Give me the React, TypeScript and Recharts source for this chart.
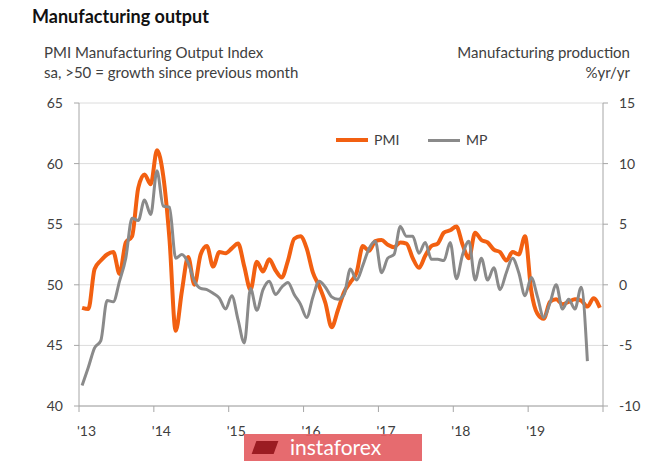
import React from 'react';
import { LineChart, Line, XAxis, YAxis, CartesianGrid } from 'recharts';

const yearLabels = ["'13", "'14", "'15", "'16", "'17", "'18", "'19"];
const yearTicks = [0, 12, 24, 36, 48, 60, 72, 84];
const leftTicks = [40, 45, 50, 55, 60, 65];
const rightTicks = [-10, -5, 0, 5, 10, 15];

// PMI Manufacturing Output Index, monthly Jan 2013 - Dec 2019
const pmi = [
  48.1, 48.0, 51.3, 52.0, 52.5, 52.7, 50.9, 53.5, 54.0, 58.0, 59.1, 58.3,
  61.1, 59.0, 53.8, 46.2, 49.5, 52.3, 50.0, 52.5, 53.2, 51.5, 52.7, 52.6,
  53.0, 53.4, 51.5, 49.6, 51.9, 51.1, 52.1, 51.2, 50.6, 52.0, 53.8, 54.0,
  53.0, 51.0, 49.9, 48.5, 46.5, 47.9, 49.4, 50.2, 51.0, 53.2, 52.8, 53.6,
  53.7, 53.3, 53.1, 53.5, 53.4, 52.2, 51.4, 52.4, 53.2, 53.4, 54.3, 54.5,
  54.8, 53.3, 52.2, 54.3, 53.7, 53.5, 52.9, 52.7, 52.0, 52.7, 52.5, 54.0,
  49.5, 47.6, 47.2, 48.6, 48.8, 48.4, 48.6, 48.8, 48.7, 48.2, 48.9, 48.1,
];

// Manufacturing production %yr/yr, monthly Jan 2013 - Oct 2019
const mp = [
  -8.3, -6.8, -5.2, -4.6, -1.3, -1.4, 0.3, 2.2, 5.5, 5.3, 7.0, 5.8,
  9.4, 6.5, 6.4, 2.2, 2.5, 1.8, 0.3, -0.3, -0.4, -0.7, -1.1, -2.0,
  -0.9, -2.9, -4.8, -0.3, -2.1, -0.4, 0.3, -0.8, -0.2, 0.2, -0.8, -1.6,
  -2.7, -1.0, 0.3, -0.2, -1.0, -1.2, -0.8, 1.3, 0.4, 1.6, 3.0, 3.6,
  1.0, 2.2, 2.5, 4.8, 4.0, 4.0, 2.6, 3.5, 2.1, 2.1, 2.0, 3.5,
  0.5, 2.5, 3.6, 0.4, 2.2, 0.4, 1.4, -0.4, 1.0, 2.2, 1.0, -0.9,
  0.6, -1.0, -2.7, -1.5, 0.0, -2.0, -1.2, -2.0, -0.2, -6.3,
];

const data = pmi.map((v, i) => ({
  x: i + 0.5,
  pmi: v,
  mp: i < mp.length ? mp[i] : null,
}));

const FONT = 'Lato, "Open Sans", sans-serif';
const TEXT = '#404040';
const AXIS = '#a6a6a6';
const ORANGE = '#F26011';
const GRAY = '#8a8a8a';

const XTick = (props: any) => {
  const { x, y, payload } = props;
  const idx = Math.round(payload.value / 12);
  if (idx >= yearLabels.length) return <g />;
  return (
    <text x={x - 2} y={y} dy="0.71em" textAnchor="start" fill={TEXT} fontSize={14} fontFamily={FONT}>
      {yearLabels[idx]}
    </text>
  );
};

export default function App() {
  return (
    <div style={{ position: 'absolute', left: 0, top: 0, width: 665, height: 461, background: '#fff', fontFamily: FONT, overflow: 'hidden' }}>
      <div style={{ position: 'absolute', left: 32, top: 5, fontSize: 18, fontWeight: 700, color: '#111', whiteSpace: 'nowrap' }}>
        Manufacturing output
      </div>
      <div style={{ position: 'absolute', left: 44, top: 42, fontSize: 15, color: TEXT, lineHeight: '20px', whiteSpace: 'nowrap' }}>
        PMI Manufacturing Output Index<br />sa, &gt;50 = growth since previous month
      </div>
      <div style={{ position: 'absolute', right: 35, top: 42, fontSize: 15, color: TEXT, lineHeight: '20px', textAlign: 'right', whiteSpace: 'nowrap' }}>
        Manufacturing production<br />%yr/yr
      </div>
      <LineChart width={665} height={461} data={data} margin={{ top: 103, right: 0, bottom: 24, left: 0 }}>
        <CartesianGrid yAxisId="left" vertical={false} stroke="#dcdcdc" />
        <XAxis
          dataKey="x"
          type="number"
          domain={[0, 84]}
          ticks={yearTicks}
          interval={0}
          tick={<XTick />}
          tickSize={6}
          tickMargin={14}
          height={31}
          axisLine={{ stroke: AXIS }}
          tickLine={{ stroke: AXIS }}
        />
        <YAxis
          yAxisId="left"
          domain={[40, 65]}
          ticks={leftTicks}
          interval={0}
          width={79}
          tickSize={5}
          tickMargin={11}
          axisLine={{ stroke: AXIS }}
          tickLine={{ stroke: AXIS }}
          tick={{ fill: TEXT, fontSize: 14, fontFamily: FONT }}
        />
        <YAxis
          yAxisId="right"
          orientation="right"
          domain={[-10, 15]}
          ticks={rightTicks}
          interval={0}
          width={62}
          tickSize={5}
          tickMargin={11}
          axisLine={{ stroke: AXIS }}
          tickLine={{ stroke: AXIS }}
          tick={{ fill: TEXT, fontSize: 14, fontFamily: FONT, textAnchor: 'start' }}
        />
        <Line yAxisId="left" type="monotone" dataKey="pmi" stroke={ORANGE} strokeWidth={4} dot={false} isAnimationActive={false} />
        <Line yAxisId="right" type="monotone" dataKey="mp" stroke={GRAY} strokeWidth={3} dot={false} isAnimationActive={false} />
      </LineChart>
      <div style={{ position: 'absolute', left: 336, top: 138, width: 32, height: 4, background: ORANGE }} />
      <div style={{ position: 'absolute', left: 374, top: 131, fontSize: 14, color: TEXT }}>PMI</div>
      <div style={{ position: 'absolute', left: 428, top: 138.5, width: 32, height: 3, background: GRAY }} />
      <div style={{ position: 'absolute', left: 466, top: 131, fontSize: 14, color: TEXT }}>MP</div>
      <div style={{ position: 'absolute', left: 244, top: 434, width: 178, height: 27, background: 'rgba(228,96,100,0.93)' }}>
        <div style={{ position: 'absolute', left: 10, top: 7, width: 22, height: 13, background: '#9b1c22', transform: 'skewX(-20deg)' }} />
        <div style={{ position: 'absolute', left: 46, top: 0, fontSize: 21, color: '#fff', letterSpacing: 0 }}>instaforex</div>
      </div>
    </div>
  );
}
